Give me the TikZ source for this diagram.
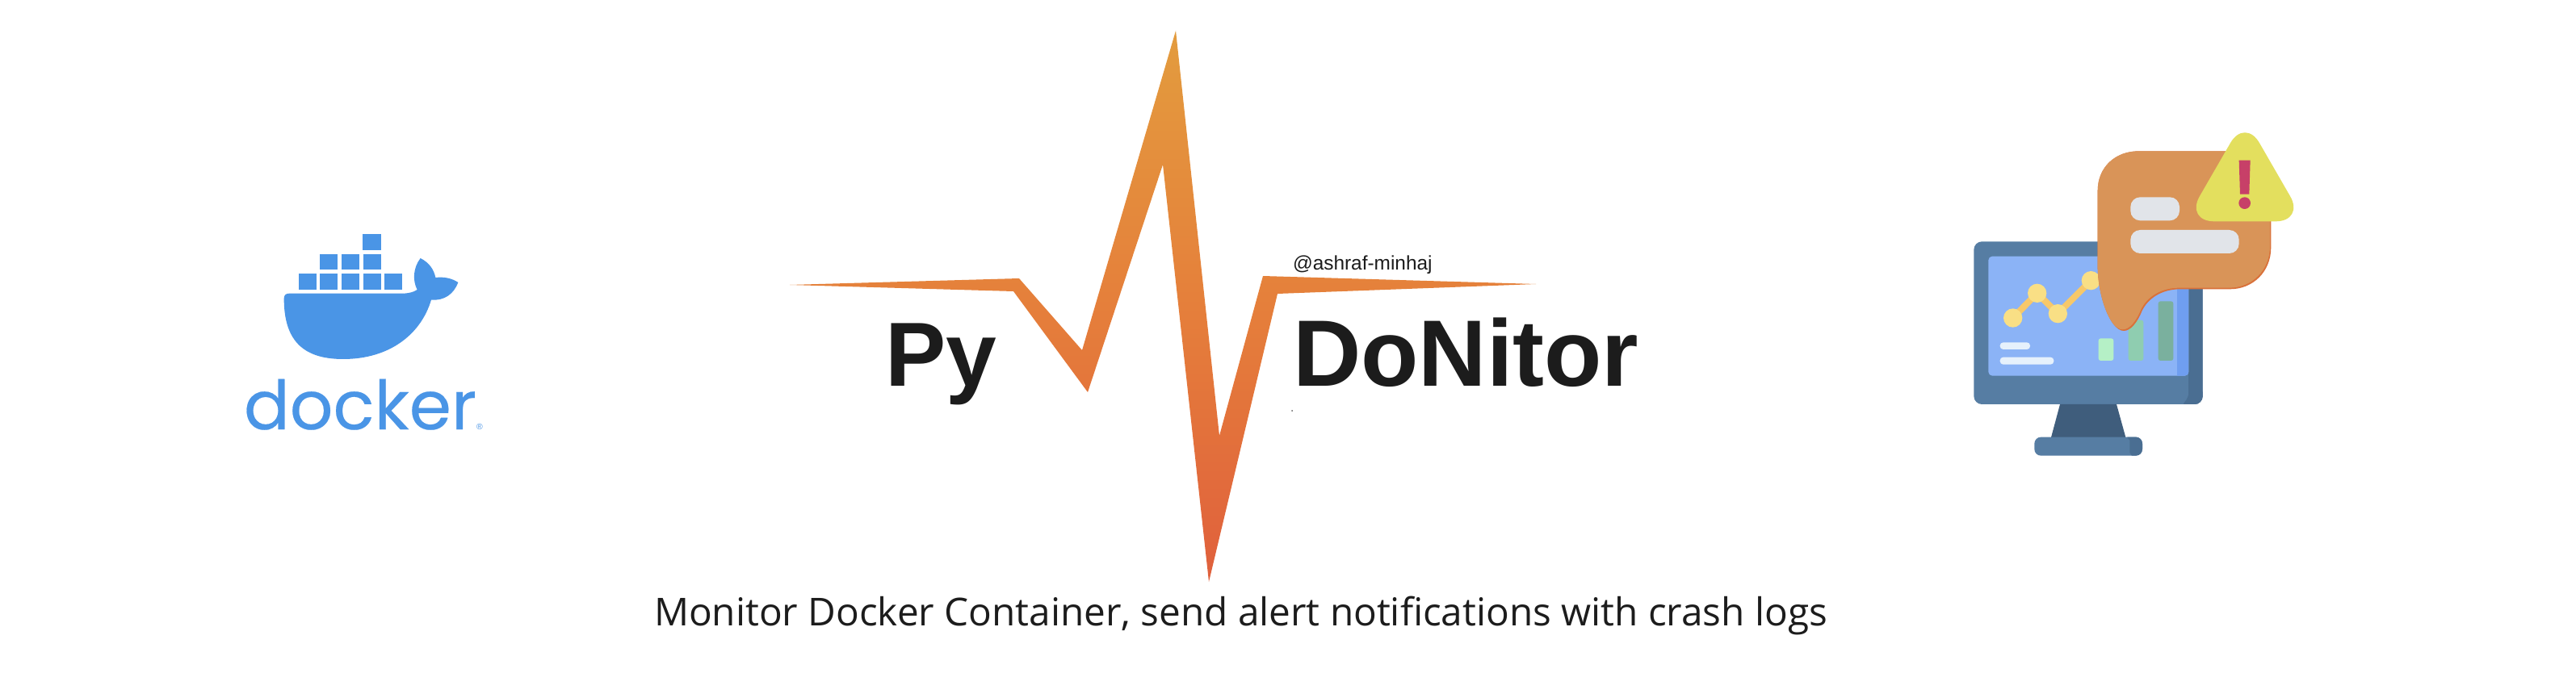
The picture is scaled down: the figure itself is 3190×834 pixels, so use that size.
\documentclass[tikz,border=0pt]{standalone}
\usepackage{fontspec}
\setmainfont{Liberation Sans}
\newfontfamily\popfont[FakeBold=0.25]{Poppins}
\newfontfamily\opfont{Open Sans}
\definecolor{dblue}{HTML}{4A95E6}
\definecolor{mframe}{HTML}{567DA3}
\definecolor{mframed}{HTML}{4A6E92}
\definecolor{mstand}{HTML}{3F5D7C}
\definecolor{mscreen}{HTML}{8BB3F6}
\definecolor{mscreend}{HTML}{6F9EF0}
\definecolor{chartline}{HTML}{F7C86A}
\definecolor{chartdot}{HTML}{F9DF85}
\definecolor{bubblec}{HTML}{D99458}
\definecolor{bubbled}{HTML}{D9713A}
\definecolor{tric}{HTML}{E3DF5E}
\definecolor{exc}{HTML}{C74068}
\definecolor{pillc}{HTML}{E1E4E9}
\definecolor{inkc}{HTML}{1C1C1C}
\definecolor{pulsetop}{HTML}{E39C3E}
\definecolor{pulsemid}{HTML}{E57F3B}
\definecolor{pulsebot}{HTML}{E0603C}
\definecolor{lightpill}{HTML}{E6F1FC}
\definecolor{barone}{HTML}{B5F0C6}
\definecolor{bartwo}{HTML}{8FCDB0}
\definecolor{barthree}{HTML}{7AB09E}
\tikzset{
  px/.style={x=0.25pt,y=-0.25pt},
  logo3x/.style={x=0.083333pt,y=-0.083333pt},
  plain/.style={inner sep=0pt,outer sep=0pt},
}
\newcommand{\bubblepath}{(593,260) .. controls (593,170) and (660,112) .. (745,112)
    -- (1090,112) .. controls (1175,112) and (1237,180) .. (1237,265)
    -- (1237,470) .. controls (1237,560) and (1170,625) .. (1085,625)
    -- (900,625) .. controls (830,625) and (780,660) .. (758,705)
    .. controls (740,750) and (715,780) .. (690,780)
    .. controls (640,780) and (593,650) .. (593,540) -- cycle}
\begin{document}
\begin{tikzpicture}[px]
\useasboundingbox[fill=white] (0,0) rectangle (3190,834);
% docker logo
\begin{scope}[shift={(260,260)},logo3x]
  \fill[dblue] (568,91) rectangle (636,150);
  \foreach \xa in {409,489,569} \fill[dblue] (\xa,165) rectangle ++(66,58);
  \foreach \xa in {329,409,489,569,649} \fill[dblue] (\xa,238) rectangle ++(66,59);
  \fill[dblue] (275,330) .. controls (275,316) and (283,311) .. (295,311)
    -- (715,311) .. controls (738,311) and (757,306) .. (770,297)
    .. controls (752,262) and (755,215) .. (782,180)
    .. controls (812,195) and (832,220) .. (838,252)
    .. controls (870,248) and (900,255) .. (922,270)
    .. controls (905,315) and (870,338) .. (822,335)
    .. controls (785,460) and (670,555) .. (495,555)
    .. controls (340,555) and (275,480) .. (275,330) -- cycle;
\end{scope}
\node[plain,anchor=base west,text=dblue] (dockertext) at (302,532)
  {\popfont\fontsize{21.0}{26}\selectfont docker{\rmfamily\fontsize{2.6}{3}\selectfont ®}};
% pulse
\path[top color=pulsetop,bottom color=pulsebot,middle color=pulsemid] (978,353)
  -- (1262,345) -- (1340,434) -- (1456,38) -- (1510,540) -- (1564,342)
  -- (1902,352) -- (1582,364) -- (1497,721) -- (1440,204) -- (1347,486)
  -- (1255,361) -- cycle;
\node[plain,anchor=base west,text=inkc] (py) at (1096,478)
  {\fontsize{28.2}{32}\selectfont\bfseries Py};
\node[plain,anchor=base west,text=inkc] (donitor) at (1601,478)
  {\fontsize{29.2}{32}\selectfont\bfseries DoNitor};
\node[plain,anchor=base west,text=inkc] (handle) at (1601,335)
  {\fontsize{6.1}{8}\selectfont @ashraf-minhaj};
\fill[inkc!70] (1600,509) circle (1);
\node[plain,anchor=base west,text=inkc] (subtitle) at (810,775)
  {\opfont\fontsize{11.92}{14}\selectfont Monitor Docker Container, send alert notifications with crash logs};
% monitor
\begin{scope}[shift={(2400,150)},logo3x]
  \fill[mframe,rounded corners=2.5pt] (133,448) rectangle (983,1053);
  \begin{scope}
    \clip[rounded corners=2.5pt] (133,448) rectangle (983,1053);
    \fill[mframed] (930,448) rectangle (983,1053);
    \fill[mframed,rounded corners=2pt] (900,1060) -- (932,1030) -- (932,1000) -- (990,1000) -- (990,1060) -- cycle;
  \end{scope}
  \fill[mscreen,rounded corners=1.2pt] (187,503) rectangle (931,947);
  \begin{scope}
    \clip[rounded corners=1.2pt] (187,503) rectangle (931,947);
    \fill[mscreend] (887,503) rectangle (931,947);
  \end{scope}
  \fill[mstand] (453,1053) -- (663,1053) -- (697,1176) -- (420,1176) -- cycle;
  \fill[mframe,rounded corners=2pt] (358,1175) rectangle (759,1244);
  \begin{scope}
    \clip[rounded corners=2pt] (358,1175) rectangle (759,1244);
    \fill[mframed,rounded corners=2pt] (690,1170) .. controls (705,1180) and (712,1190) .. (712,1210) -- (712,1250) -- (765,1250) -- (765,1170) -- cycle;
  \end{scope}
  \draw[chartline,line width=2pt] (278,732) -- (368,640) -- (445,716) -- (568,593);
  \foreach \xa/\ya in {278/732,368/640,445/716,568/593} \fill[chartdot] (\xa,\ya) circle (35);
  \fill[lightpill,rounded corners=1pt] (230,823) rectangle (342,849);
  \fill[lightpill,rounded corners=1pt] (230,878) rectangle (430,905);
  \fill[barone,rounded corners=.7pt] (596,808) rectangle (652,891);
  \fill[bartwo,rounded corners=.7pt] (707,740) rectangle (763,891);
  \fill[barthree,rounded corners=.7pt] (818,670) rectangle (874,891);
  % speech bubble
  \fill[bubbled] \bubblepath;
  \begin{scope}
    \clip \bubblepath;
    \fill[bubblec,shift={(-4,-5)}] \bubblepath;
  \end{scope}
  \fill[pillc,rounded corners=3pt] (715,283) rectangle (897,370);
  \fill[pillc,rounded corners=3pt] (715,405) rectangle (1118,492);
  % warning triangle
  \fill[tric,rounded corners=9pt] (1140,-12) -- (1362,373) -- (918,373) -- cycle;
  \fill[exc] (1118,146) -- (1160,146) -- (1156,272) -- (1122,272) -- cycle;
  \fill[exc] (1139,305) circle (22);
\end{scope}
\end{tikzpicture}
\end{document}
